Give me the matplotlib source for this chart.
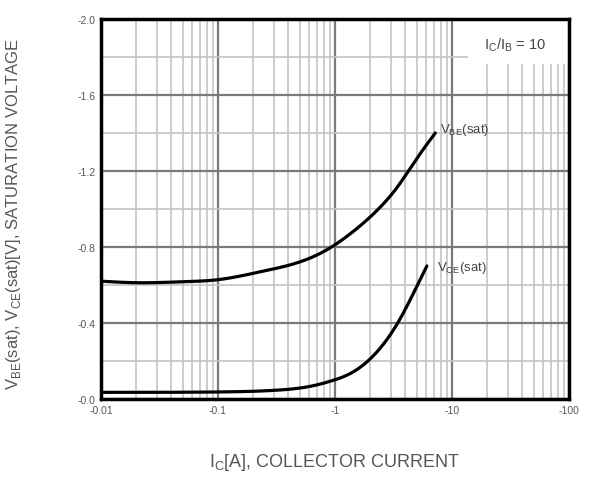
import matplotlib
matplotlib.use("Agg")
import matplotlib.pyplot as plt
from matplotlib.ticker import FixedLocator, NullFormatter, LogLocator
from matplotlib.patches import Rectangle
import numpy as np

plt.rcParams['font.family'] = ['Liberation Sans', 'DejaVu Sans']

# Data (current in A, voltage magnitude in V)
ic_vbe = [0.01, 0.02, 0.05, 0.1, 0.24, 0.52, 0.906, 1.34, 1.99, 2.68, 3.36, 4.17, 5.3, 7.2]
vbe_sat = [0.62, 0.612, 0.617, 0.628, 0.672, 0.725, 0.795, 0.868, 0.957, 1.037, 1.11, 1.193, 1.288, 1.40]

ic_vce = [0.01, 0.1, 0.33, 0.63, 0.906, 1.34, 1.99, 2.68, 3.36, 4.25, 5.1, 6.1]
vce_sat = [0.035, 0.037, 0.047, 0.068, 0.093, 0.133, 0.21, 0.30, 0.39, 0.505, 0.603, 0.70]

x_ticks = [0.01, 0.1, 1, 10, 100]
x_ticklabels = ['-0.01', '-0.1', '-1', '-10', '-100']
y_ticks = [0.0, 0.4, 0.8, 1.2, 1.6, 2.0]
y_ticklabels = ['-0.0', '-0.4', '-0.8', '-1.2', '-1.6', '-2.0']


def spline(xs, ys, n=500):
    """Natural cubic spline through the read points (in log-x), for drawing."""
    x = np.log10(np.asarray(xs, float))
    y = np.asarray(ys, float)
    N = len(x)
    h = np.diff(x)
    A = np.zeros((N, N))
    b = np.zeros(N)
    A[0, 0] = A[-1, -1] = 1
    for i in range(1, N - 1):
        A[i, i-1] = h[i-1]
        A[i, i] = 2 * (h[i-1] + h[i])
        A[i, i+1] = h[i]
        b[i] = 3 * ((y[i+1] - y[i]) / h[i] - (y[i] - y[i-1]) / h[i-1])
    c = np.linalg.solve(A, b)
    bb = (y[1:] - y[:-1]) / h - h * (2 * c[:-1] + c[1:]) / 3
    d = (c[1:] - c[:-1]) / (3 * h)
    t = np.linspace(x[0], x[-1], n)
    idx = np.clip(np.searchsorted(x, t) - 1, 0, N - 2)
    dx = t - x[idx]
    yy = y[idx] + bb[idx] * dx + c[idx] * dx**2 + d[idx] * dx**3
    return 10**t, yy


fig = plt.figure(figsize=(5.92, 4.81), dpi=100)
ax = fig.add_axes([101/592, (481-400)/481, 468/592, 380/481])

ax.set_xscale('log')
ax.set_xlim(0.01, 100)
ax.set_ylim(0, 2.0)

xb, yb = spline(ic_vbe, vbe_sat)
xc, yc = spline(ic_vce, vce_sat)
ax.plot(xb, yb, color='black', lw=2.3, zorder=3, solid_capstyle='round')
ax.plot(xc, yc, color='black', lw=2.3, zorder=3, solid_capstyle='round')

# grid
ax.xaxis.set_major_locator(FixedLocator(x_ticks))
ax.xaxis.set_minor_locator(LogLocator(base=10, subs=np.arange(2, 10)))
ax.xaxis.set_minor_formatter(NullFormatter())
ax.yaxis.set_major_locator(FixedLocator(y_ticks))
ax.yaxis.set_minor_locator(FixedLocator([0.2, 0.6, 1.0, 1.4, 1.8]))
ax.set_xticklabels(x_ticklabels)
ax.set_yticklabels(y_ticklabels)

ax.grid(which='major', axis='both', color='#7a7a7a', lw=1.6)
ax.grid(which='minor', axis='both', color='#c4c4c4', lw=1.2)
ax.set_axisbelow(True)

ax.tick_params(which='both', length=0, labelsize=7.5, colors='#555555', pad=4)
for sp in ax.spines.values():
    sp.set_linewidth(2.5)
    sp.set_color('black')

# white patch behind the ratio label
ax.add_patch(Rectangle((0.784, 0.882), 0.216, 0.118, transform=ax.transAxes,
                       facecolor='white', edgecolor='none', zorder=2))

ax.text(7.9, 1.42, r'V$_{\mathregular{BE}}$(sat)', fontsize=9.5, color='#444444', va='center', ha='left')
ax.text(7.5, 0.695, r'V$_{\mathregular{CE}}$(sat)', fontsize=9.5, color='#444444', va='center', ha='left')
ax.text(0.885, 0.935, r'I$_{\mathregular{C}}$/I$_{\mathregular{B}}$ = 10', fontsize=10.5, color='#444444',
        va='center', ha='center', transform=ax.transAxes, zorder=4)

fig.text(335/592, 1 - 463/481, r'I$_{\mathregular{C}}$[A], COLLECTOR CURRENT', fontsize=13,
         color='#555555', ha='center', va='center')
fig.text(14/592, 1 - 214/481,
         r'V$_{\mathregular{BE}}$(sat), V$_{\mathregular{CE}}$(sat)[V], SATURATION VOLTAGE',
         fontsize=12, color='#555555', ha='center', va='center', rotation=90)

fig.savefig('out.png', dpi=100)
